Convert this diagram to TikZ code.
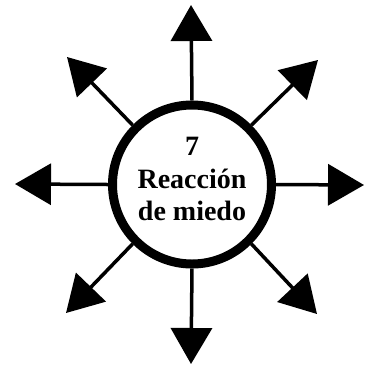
\documentclass[tikz,border=0pt]{standalone}
\usepackage{fontspec}
\setmainfont{Liberation Serif}
\usetikzlibrary{arrows.meta}
\tikzset{
  ray/.style={line width=3.5pt, -{Triangle[length=36pt,width=41pt]}},
  ring/.style={circle, draw, line width=9pt, minimum size=159pt, inner sep=0pt},
  lbl/.style={anchor=base, font=\fontsize{28}{32}\selectfont\bfseries}
}
\begin{document}
\begin{tikzpicture}[x=1pt,y=-1pt]
\useasboundingbox (0,0) rectangle (366,365);
\node[ring] (c) at (192,184.5) {};
\coordinate (tN) at (191,5);
\coordinate (tS) at (191,364);
\coordinate (tW) at (15,184);
\coordinate (tE) at (364,185);
\coordinate (tNW) at (67,57);
\coordinate (tNE) at (318,60);
\coordinate (tSE) at (317,314);
\coordinate (tSW) at (66,313);
\draw[ray] (c.north) -- (tN);
\draw[ray] (c.south) -- (tS);
\draw[ray] (c.west) -- (tW);
\draw[ray] (c.east) -- (tE);
\draw[ray] (c.north west) -- (tNW);
\draw[ray] (c.north east) -- (tNE);
\draw[ray] (c.south east) -- (tSE);
\draw[ray] (c.south west) -- (tSW);
\node[lbl] (n7) at (192,155) {7};
\node[lbl] (nr) at (192,188) {Reacción};
\node[lbl] (nm) at (192,220) {de miedo};
\end{tikzpicture}
\end{document}
